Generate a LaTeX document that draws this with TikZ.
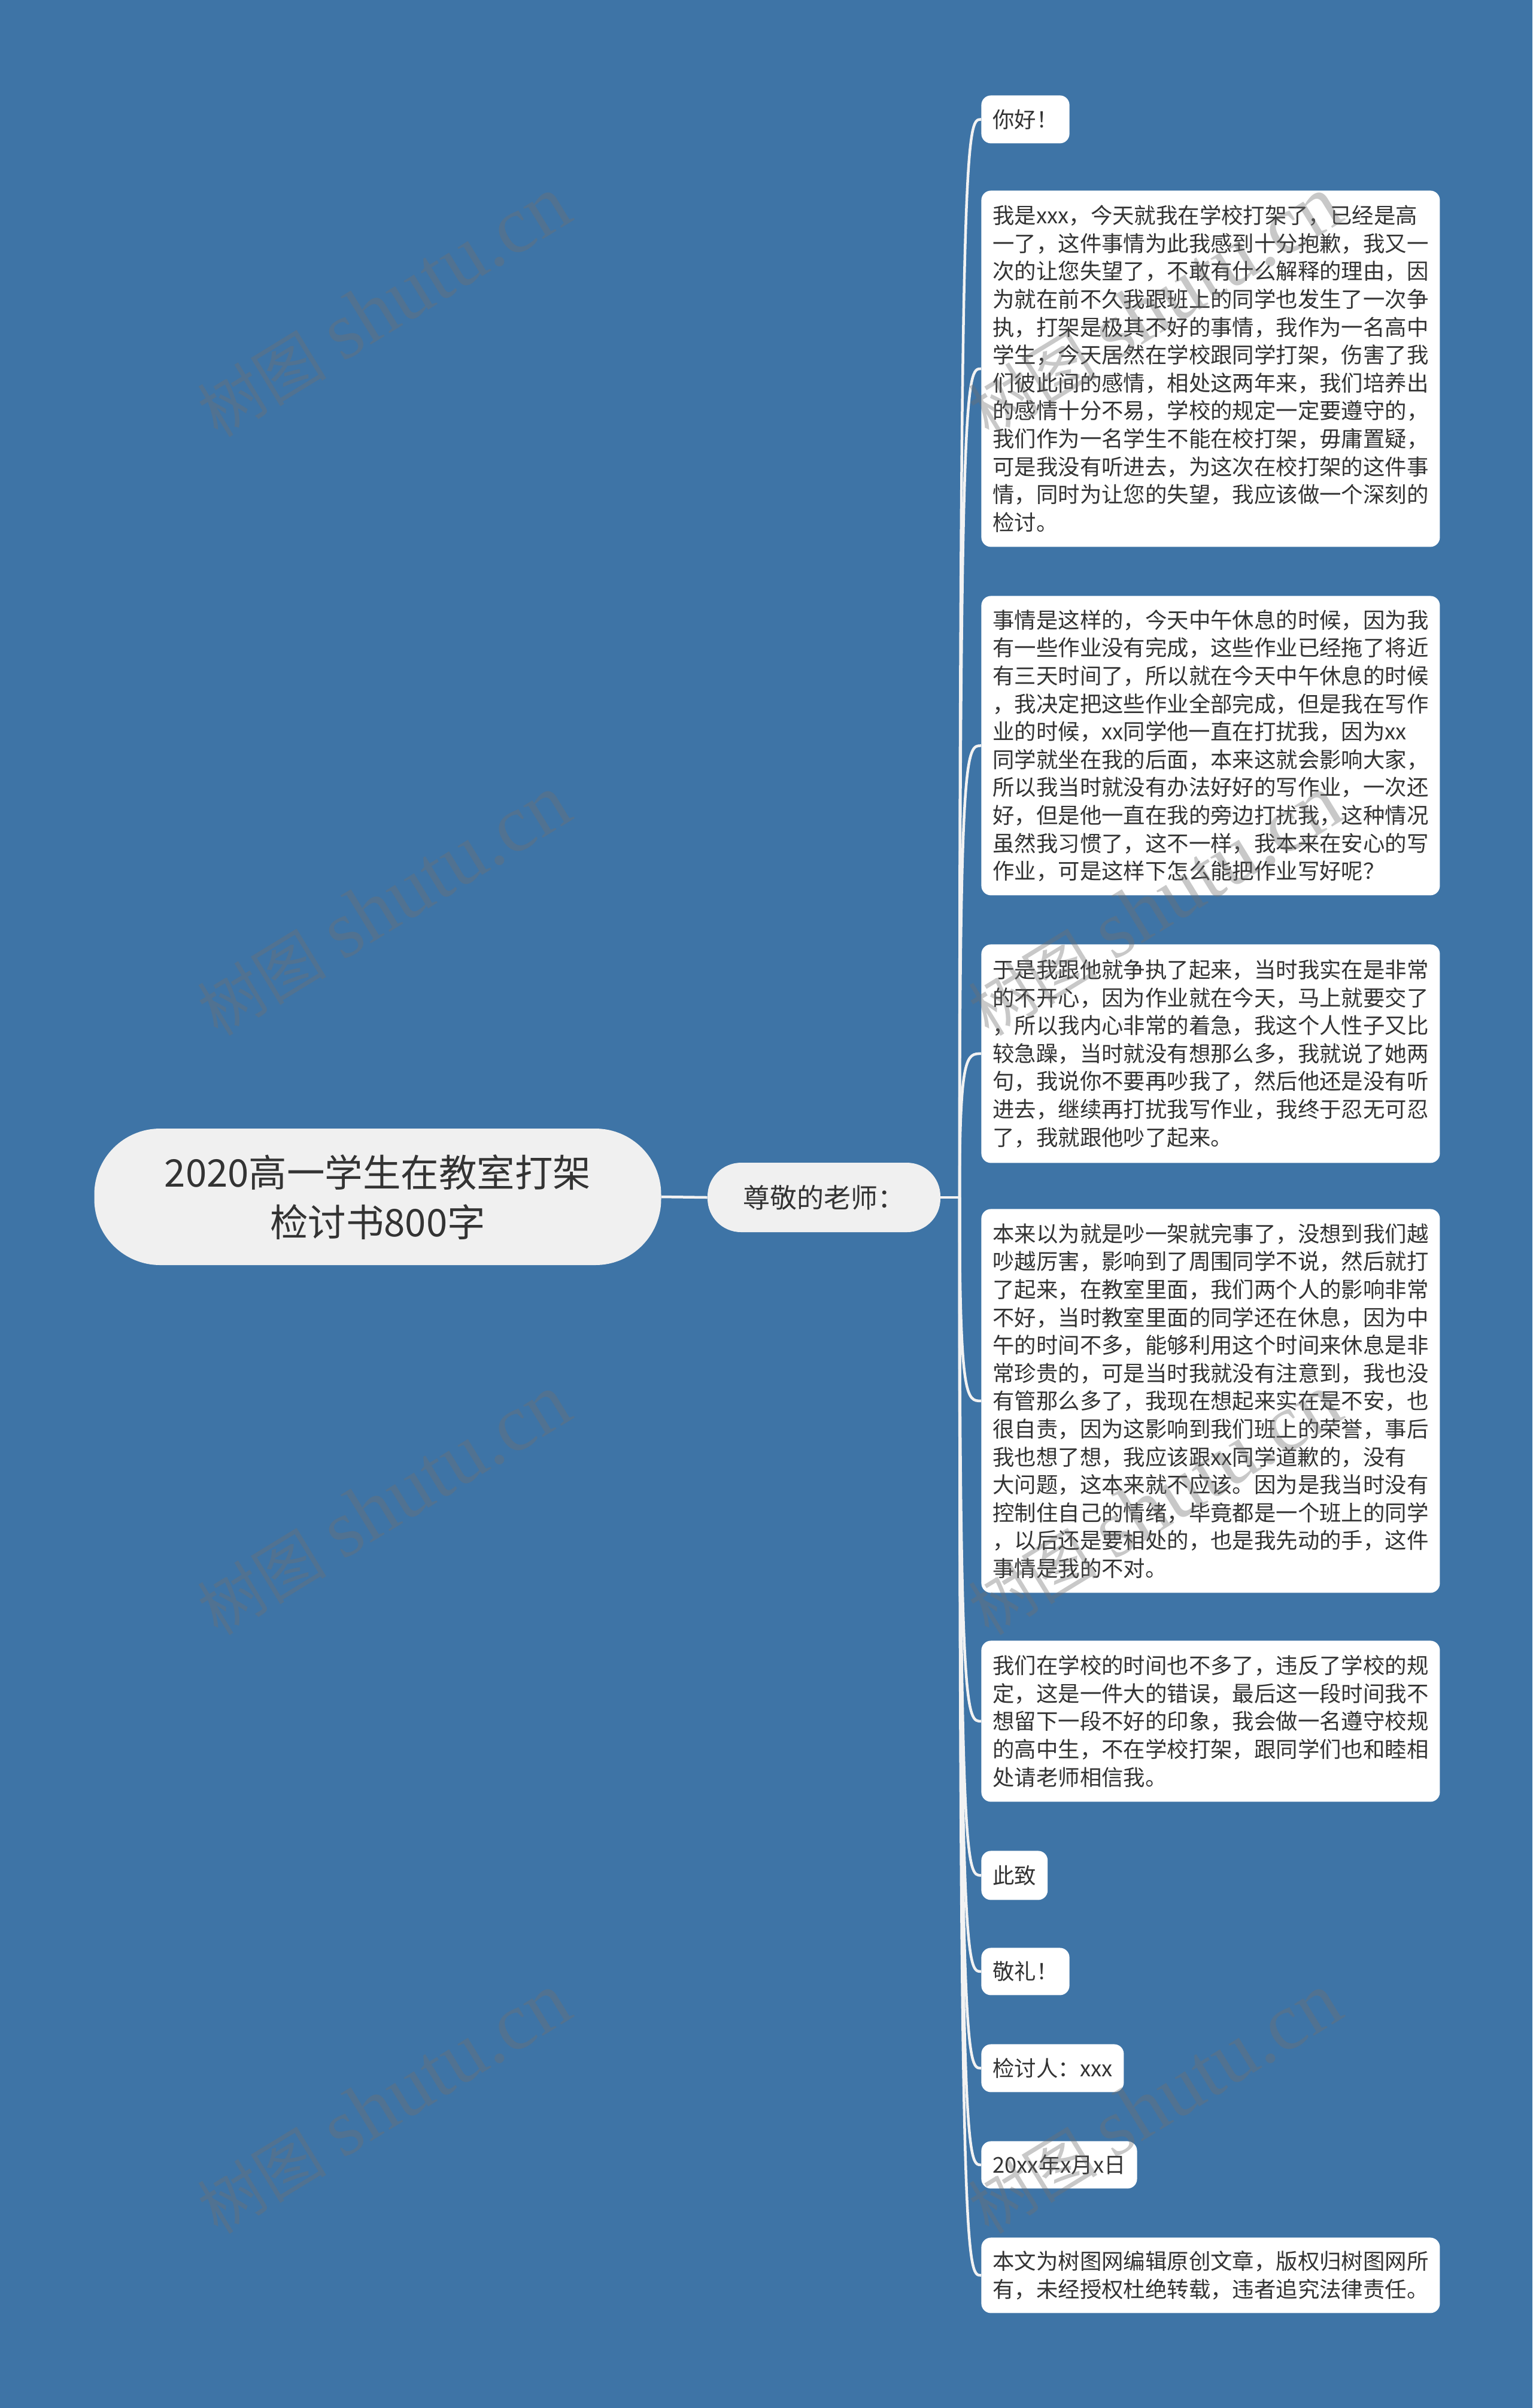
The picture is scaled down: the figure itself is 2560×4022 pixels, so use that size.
\documentclass[tikz,border=0pt]{standalone}
\usepackage{fontspec}
\newfontfamily\cjk{Noto Sans CJK SC}
\newfontfamily\wmlatin{Liberation Serif}
\usetikzlibrary{backgrounds}
\definecolor{bgblue}{RGB}{62,116,166}
\definecolor{txt}{RGB}{51,51,51}
\definecolor{pale}{RGB}{240,240,240}
\definecolor{linec}{RGB}{242,242,242}
\definecolor{wmgray}{RGB}{112,112,112}
\begin{document}
\begin{tikzpicture}[x=0.5pt,y=-0.5pt,
  leaf/.style={fill=white, rounded corners=8pt, anchor=north west, inner xsep=9.5pt, inner ysep=2pt, text=txt, font=\cjk\fontsize{18.2pt}{23.3pt}\selectfont, align=left},
  para/.style={leaf, text width=364pt},
  conn/.style={draw=linec, line width=2.25pt},
  wm/.style={text=wmgray, opacity=0.38, rotate=31.5, inner sep=0pt},
  hubnode/.style={fill=pale, text=txt, align=center}
]
\useasboundingbox (0,0) rectangle (2560,4022);

\node[hubnode, rounded corners=55pt, minimum width=473.5pt, minimum height=114pt,
  font=\cjk\fontsize{31.75pt}{41.5pt}\selectfont] (root) at (631,1999)
  {2020高一学生在教室打架\\检讨书800字};
\node[hubnode, rounded corners=28pt, minimum width=194.5pt, minimum height=58pt,
  font=\cjk\fontsize{22.5pt}{27pt}\selectfont] (teacher) at (1376.5,2000) {尊敬的老师：};
\coordinate (hub) at (1603,2000);

\node[leaf, minimum height=40pt] (n1) at (1639,159) {你好！};
\node[para, minimum height=297.5pt] (n2) at (1639,318) {我是xxx，今天就我在学校打架了，已经是高\\一了，这件事情为此我感到十分抱歉，我又一\\次的让您失望了，不敢有什么解释的理由，因\\为就在前不久我跟班上的同学也发生了一次争\\执，打架是极其不好的事情，我作为一名高中\\学生，今天居然在学校跟同学打架，伤害了我\\们彼此间的感情，相处这两年来，我们培养出\\的感情十分不易，学校的规定一定要遵守的，\\我们作为一名学生不能在校打架，毋庸置疑，\\可是我没有听进去，为这次在校打架的这件事\\情，同时为让您的失望，我应该做一个深刻的\\检讨。};
\node[para, minimum height=250pt] (n3) at (1639,995) {事情是这样的，今天中午休息的时候，因为我\\有一些作业没有完成，这些作业已经拖了将近\\有三天时间了，所以就在今天中午休息的时候\\，我决定把这些作业全部完成，但是我在写作\\业的时候，xx同学他一直在打扰我，因为xx\\同学就坐在我的后面，本来这就会影响大家，\\所以我当时就没有办法好好的写作业，一次还\\好，但是他一直在我的旁边打扰我，这种情况\\虽然我习惯了，这不一样，我本来在安心的写\\作业，可是这样下怎么能把作业写好呢？};
\node[para, minimum height=182.5pt] (n4) at (1639,1577) {于是我跟他就争执了起来，当时我实在是非常\\的不开心，因为作业就在今天，马上就要交了\\，所以我内心非常的着急，我这个人性子又比\\较急躁，当时就没有想那么多，我就说了她两\\句，我说你不要再吵我了，然后他还是没有听\\进去，继续再打扰我写作业，我终于忍无可忍\\了，我就跟他吵了起来。};
\node[para, minimum height=320.5pt] (n5) at (1639,2019) {本来以为就是吵一架就完事了，没想到我们越\\吵越厉害，影响到了周围同学不说，然后就打\\了起来，在教室里面，我们两个人的影响非常\\不好，当时教室里面的同学还在休息，因为中\\午的时间不多，能够利用这个时间来休息是非\\常珍贵的，可是当时我就没有注意到，我也没\\有管那么多了，我现在想起来实在是不安，也\\很自责，因为这影响到我们班上的荣誉，事后\\我也想了想，我应该跟xx同学道歉的，没有\\大问题，这本来就不应该。因为是我当时没有\\控制住自己的情绪，毕竟都是一个班上的同学\\，以后还是要相处的，也是我先动的手，这件\\事情是我的不对。};
\node[para, minimum height=134.5pt] (n6) at (1639,2740) {我们在学校的时间也不多了，违反了学校的规\\定，这是一件大的错误，最后这一段时间我不\\想留下一段不好的印象，我会做一名遵守校规\\的高中生，不在学校打架，跟同学们也和睦相\\处请老师相信我。};
\node[leaf, minimum height=41pt] (n7) at (1639,3091) {此致};
\node[leaf, minimum height=39.5pt] (n8) at (1639,3253) {敬礼！};
\node[leaf, minimum height=40pt] (n9) at (1639,3414) {检讨人：xxx};
\node[leaf, minimum height=39.5pt] (n10) at (1639,3576) {20xx年x月x日};
\node[para, minimum height=63pt] (n11) at (1639,3737) {本文为树图网编辑原创文章，版权归树图网所\\有，未经授权杜绝转载，违者追究法律责任。};

\begin{scope}[on background layer]
  \fill[bgblue] (0,0) rectangle (2560,4022);
  \draw[conn] (root.east) -- (teacher.west);
  \draw[conn] (teacher.east) -- (hub);
  \foreach \n in {n1,n2,n3,n4,n5,n6,n7,n8,n9,n10,n11}
    \draw[conn] (hub) .. controls (hub |- \n.west) and ([xshift=-12pt]\n.west) .. (\n.west);
\end{scope}

\foreach \x/\c in {641/a,1929/b}
  \foreach \y/\r in {513/1,1513/2,2514/3,3514/4}
    \node[wm] (wm\c\r) at (\x,\y) {{\cjk\fontsize{54pt}{54pt}\selectfont 树图}\hspace{14pt}{\wmlatin\fontsize{68pt}{68pt}\selectfont shutu.cn}};
\end{tikzpicture}
\end{document}
